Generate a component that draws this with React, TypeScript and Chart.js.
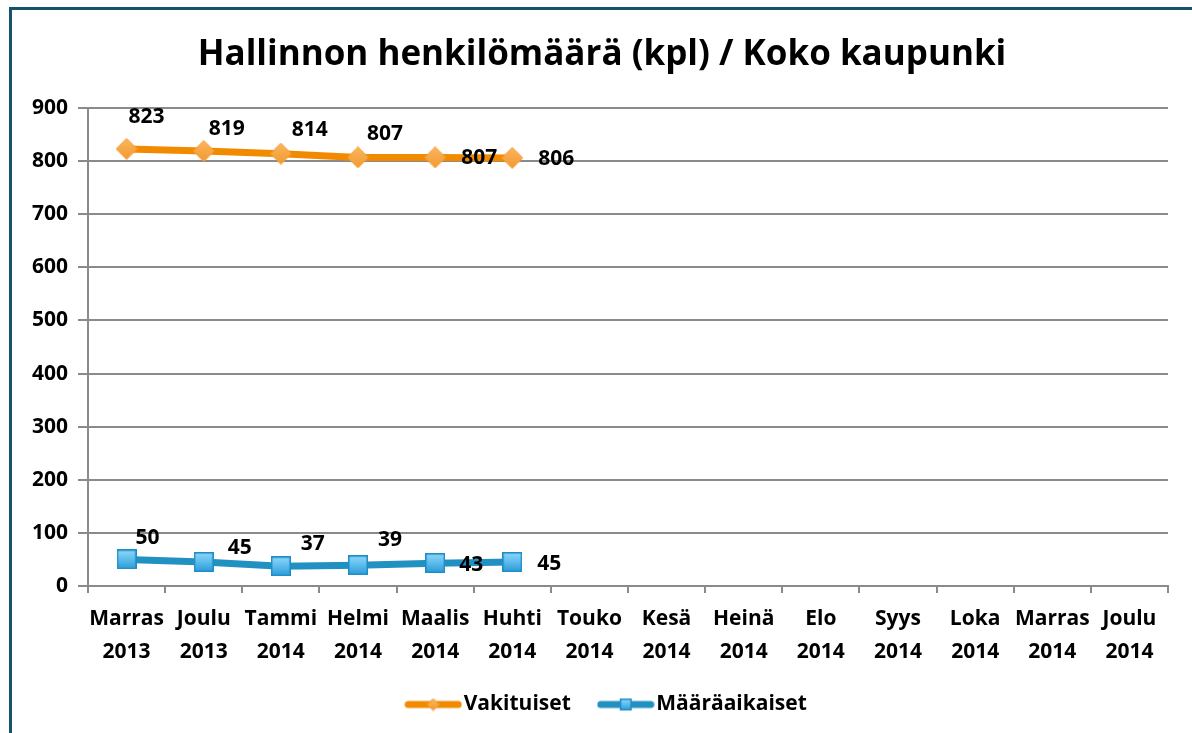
import React, { useEffect, useRef } from "react";
import { Chart, registerables } from "chart.js";

Chart.register(...registerables);

// ---------- data ----------
const categories: string[][] = [
  ["Marras", "2013"],
  ["Joulu", "2013"],
  ["Tammi", "2014"],
  ["Helmi", "2014"],
  ["Maalis", "2014"],
  ["Huhti", "2014"],
  ["Touko", "2014"],
  ["Kesä", "2014"],
  ["Heinä", "2014"],
  ["Elo", "2014"],
  ["Syys", "2014"],
  ["Loka", "2014"],
  ["Marras", "2014"],
  ["Joulu", "2014"],
];
const vakituiset = [823, 819, 814, 807, 807, 806];
const maaraaikaiset = [50, 45, 37, 39, 43, 45];
const seriesNames = ["Vakituiset", "Määräaikaiset"];
const yMin = 0;
const yMax = 900;
const yStep = 100;
const titleText = "Hallinnon henkilömäärä (kpl) / Koko kaupunki";

// ---------- styles ----------
const FONT = "'Open Sans'";
const ORANGE = "#F28A00";
const BLUE = "#2191C2";
const GRID = "#8a8a8a";
// label offsets (dx, dy) relative to each point, as placed in the reference
const labelOffsets: number[][][] = [
  [[20, -32], [23, -22], [29, -24], [27, -23], [44, 1], [44, 1]],
  [[21, -21], [36, -14], [32, -22], [32, -25], [36, 2], [37, 2]],
];

function makeDiamond(size: number) {
  const c = document.createElement("canvas");
  c.width = size;
  c.height = size;
  const g = c.getContext("2d")!;
  const h = size / 2;
  g.beginPath();
  g.moveTo(h, 0.5);
  g.lineTo(size - 0.5, h);
  g.lineTo(h, size - 0.5);
  g.lineTo(0.5, h);
  g.closePath();
  const grad = g.createLinearGradient(0, 0, 0, size);
  grad.addColorStop(0, "#FBB660");
  grad.addColorStop(1, "#F29A2E");
  g.fillStyle = grad;
  g.fill();
  g.strokeStyle = "#F59A35";
  g.lineWidth = 1;
  g.stroke();
  return c;
}

function makeSquare(size: number) {
  const c = document.createElement("canvas");
  c.width = size;
  c.height = size;
  const g = c.getContext("2d")!;
  const grad = g.createLinearGradient(0, 0, 0, size);
  grad.addColorStop(0, "#92D8FA");
  grad.addColorStop(0.5, "#5BBCEC");
  grad.addColorStop(1, "#2A98D6");
  g.fillStyle = grad;
  g.fillRect(0, 0, size, size);
  g.strokeStyle = "#1E8CC6";
  g.lineWidth = 1.5;
  g.strokeRect(0.75, 0.75, size - 1.5, size - 1.5);
  return c;
}

function makeLegendIcon(color: string, marker: HTMLCanvasElement) {
  const w = 58;
  const h = 18;
  const c = document.createElement("canvas");
  c.width = w;
  c.height = h;
  const g = c.getContext("2d")!;
  g.strokeStyle = color;
  g.lineWidth = 7;
  g.lineCap = "round";
  g.beginPath();
  g.moveTo(4, h / 2);
  g.lineTo(w - 4, h / 2);
  g.stroke();
  g.drawImage(marker, (w - marker.width) / 2, (h - marker.height) / 2);
  return c;
}

export default function App() {
  const ref = useRef<HTMLCanvasElement>(null);

  useEffect(() => {
    if (!ref.current) return;
    const diamond = makeDiamond(22);
    const square = makeSquare(20);
    const legendIcons = [
      makeLegendIcon(ORANGE, makeDiamond(13)),
      makeLegendIcon(BLUE, makeSquare(12)),
    ];

    const labelPlugin = {
      id: "pointValueLabels",
      afterDatasetsDraw(chart: any) {
        const ctx = chart.ctx;
        ctx.save();
        ctx.font = `bold 21px ${FONT}`;
        ctx.fillStyle = "#000";
        ctx.textAlign = "center";
        ctx.textBaseline = "middle";
        chart.data.datasets.forEach((ds: any, i: number) => {
          const meta = chart.getDatasetMeta(i);
          meta.data.forEach((pt: any, j: number) => {
            const off = labelOffsets[i][j] || [0, -20];
            ctx.fillText(String(ds.data[j]), pt.x + off[0], pt.y + off[1]);
          });
        });
        ctx.restore();
      },
    };

    // nudge the legend slightly right, as in the reference
    const legendShift = {
      id: "legendShift",
      afterLayout(chart: any) {
        if (chart.legend) {
          chart.legend.left += 8;
          chart.legend.right += 8;
        }
      },
    };

    const chart = new Chart(ref.current, {
      type: "line",
      data: {
        labels: categories,
        datasets: [
          {
            label: seriesNames[0],
            data: vakituiset,
            borderColor: ORANGE,
            backgroundColor: ORANGE,
            borderWidth: 7,
            pointStyle: diamond as any,
            pointRadius: 11,
            tension: 0,
          },
          {
            label: seriesNames[1],
            data: maaraaikaiset,
            borderColor: BLUE,
            backgroundColor: BLUE,
            borderWidth: 7,
            pointStyle: square as any,
            pointRadius: 10,
            tension: 0,
          },
        ],
      },
      options: {
        animation: false,
        responsive: false,
        maintainAspectRatio: false,
        layout: { padding: { left: 0, right: 0, top: 0, bottom: 8 } },
        plugins: {
          title: {
            display: true,
            text: titleText,
            color: "#000",
            font: { family: FONT, size: 35, weight: "bold", lineHeight: 1.2 },
            padding: { top: 24, bottom: 32 },
          },
          legend: {
            display: true,
            position: "bottom",
            labels: {
              color: "#000",
              font: { family: FONT, size: 21, weight: "bold" },
              usePointStyle: true,
              pointStyleWidth: 40,
              padding: 35,
              generateLabels: (ch: any) =>
                ch.data.datasets.map((ds: any, i: number) => ({
                  text: ds.label,
                  pointStyle: legendIcons[i],
                  fillStyle: ds.borderColor,
                  strokeStyle: ds.borderColor,
                  lineWidth: 0,
                  hidden: false,
                  datasetIndex: i,
                  fontColor: "#000",
                })),
            },
          },
          tooltip: { enabled: false },
        },
        scales: {
          x: {
            offset: true,
            grid: {
              offset: true,
              drawOnChartArea: false,
              color: GRID,
              lineWidth: 2,
              tickLength: 7,
            },
            border: { color: GRID, width: 2 },
            ticks: {
              color: "#000",
              font: { family: FONT, size: 21, weight: "bold", lineHeight: 1.55 },
              padding: 10,
              maxRotation: 0,
              autoSkip: false,
            },
            afterFit(scale: any) {
              scale.height = 73;
            },
          },
          y: {
            min: yMin,
            max: yMax,
            ticks: {
              stepSize: yStep,
              color: "#000",
              font: { family: FONT, size: 21, weight: "bold" },
              padding: 10,
            },
            grid: { color: GRID, lineWidth: 2, tickLength: 10 },
            border: { color: GRID, width: 2 },
            afterFit(scale: any) {
              scale.width = 76;
            },
          },
          // empty right-side spacer so the plot ends where the reference does
          yRight: {
            position: "right",
            display: true,
            grid: { display: false, drawTicks: false },
            ticks: { display: false },
            border: { display: false },
            afterFit(scale: any) {
              scale.width = 24;
            },
          },
        },
      },
      plugins: [labelPlugin, legendShift],
    });
    return () => chart.destroy();
  }, []);

  return (
    <div
      style={{
        position: "absolute",
        left: 9,
        top: 7,
        width: 1183,
        height: 726,
        borderTop: "3px solid #17526A",
        borderLeft: "3px solid #17526A",
        boxSizing: "border-box",
        background: "#fff",
      }}
    >
      <canvas ref={ref} width={1180} height={723} style={{ display: "block" }} />
    </div>
  );
}
